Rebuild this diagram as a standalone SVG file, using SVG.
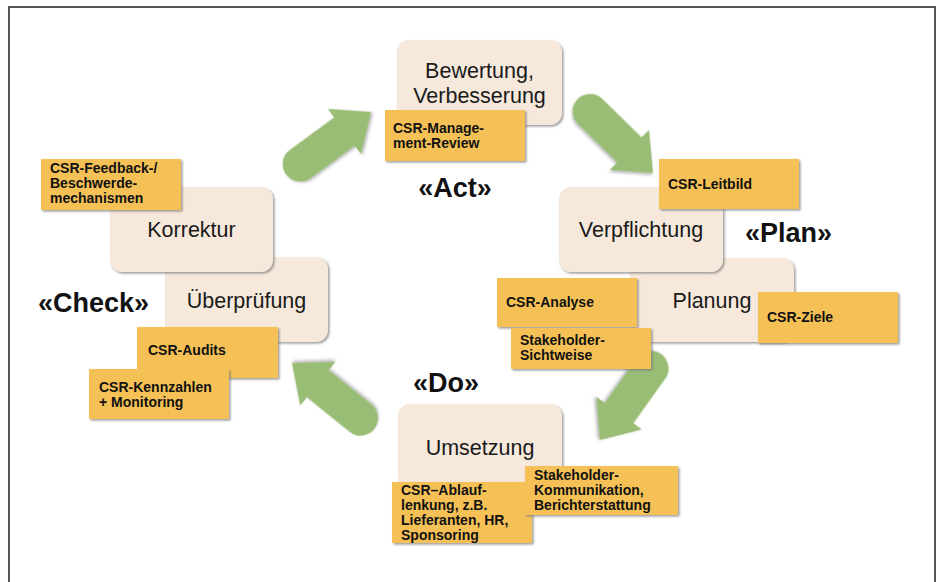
<svg xmlns="http://www.w3.org/2000/svg" width="940" height="582" viewBox="0 0 940 582">
<defs>
<filter id="sh" x="-10%" y="-10%" width="130%" height="130%">
<feDropShadow dx="1.5" dy="1.5" stdDeviation="1" flood-color="#777" flood-opacity="0.75"/>
</filter>
<filter id="shA" x="-20%" y="-20%" width="140%" height="140%">
<feDropShadow dx="1" dy="2" stdDeviation="1.5" flood-color="#666" flood-opacity="0.45"/>
</filter>
<path id="arr" d="M0,-17.5 L55,-17.5 L55,-28 L88,0 L55,28 L55,17.5 L0,17.5 A17.5,17.5 0 0 1 0,-17.5 Z"/>
</defs>
<style>
.frame{fill:#fff;stroke:#555;stroke-width:2}
.node{fill:#f6e9dc;filter:url(#sh)}
.box{fill:#f5c156;filter:url(#sh)}
.arrow{fill:#9abd74;filter:url(#shA)}
.nt{font-family:"Liberation Sans",Arial,sans-serif;font-size:21.5px;fill:#1a1a1a;text-anchor:middle}
.bt{font-family:"Liberation Sans",Arial,sans-serif;font-size:14px;font-weight:bold;fill:#111}
.st{font-family:"Liberation Sans",Arial,sans-serif;font-size:27px;font-weight:bold;fill:#111}
</style>
<rect class="frame" x="9" y="7" width="926" height="600"/>

<g id="connectors">
<use href="#arr" class="arrow" transform="translate(300.1,164.1) rotate(-36.3)"/>
<use href="#arr" class="arrow" transform="translate(590.1,111.4) rotate(44.4)"/>
<use href="#arr" class="arrow" transform="translate(651.1,368.4) rotate(125.5)"/>
<use href="#arr" class="arrow" transform="translate(360.6,418.2) rotate(-141.2)"/>
</g>

<g id="node-bewertung">
<rect class="node" x="397" y="40" width="165" height="85" rx="12"/>
<text class="nt" x="479.5" y="78">Bewertung,</text>
<text class="nt" x="479.5" y="103">Verbesserung</text>
</g>
<g id="node-planung">
<rect class="node" x="630" y="258" width="164" height="84" rx="12"/>
<text class="nt" x="712" y="308">Planung</text>
</g>
<g id="node-verpflichtung">
<rect class="node" x="559" y="187" width="164" height="85" rx="12"/>
<text class="nt" x="641" y="237">Verpflichtung</text>
</g>
<g id="node-umsetzung">
<rect class="node" x="398" y="404" width="164" height="84" rx="12"/>
<text class="nt" x="480" y="455">Umsetzung</text>
</g>
<g id="node-ueberpruefung">
<rect class="node" x="165" y="257" width="163" height="85" rx="12"/>
<text class="nt" x="246.5" y="308">Überprüfung</text>
</g>
<g id="node-korrektur">
<rect class="node" x="110" y="187" width="163" height="85" rx="12"/>
<text class="nt" x="191.5" y="237">Korrektur</text>
</g>

<g id="box-management-review">
<rect class="box" x="385" y="110" width="140" height="51"/>
<text class="bt" x="393" y="133">CSR-Manage-</text>
<text class="bt" x="393" y="148">ment-Review</text>
</g>
<g id="box-leitbild">
<rect class="box" x="659" y="159" width="140" height="50"/>
<text class="bt" x="668" y="189">CSR-Leitbild</text>
</g>
<g id="box-ziele">
<rect class="box" x="758" y="292" width="140" height="51"/>
<text class="bt" x="767" y="322">CSR-Ziele</text>
</g>
<g id="box-analyse">
<rect class="box" x="497" y="278" width="140" height="49"/>
<text class="bt" x="506" y="307">CSR-Analyse</text>
</g>
<g id="box-sichtweise">
<rect class="box" x="511" y="328" width="140" height="41"/>
<text class="bt" x="520" y="345">Stakeholder-</text>
<text class="bt" x="520" y="360">Sichtweise</text>
</g>
<g id="box-ablauflenkung">
<rect class="box" x="392" y="482" width="140" height="61"/>
<text class="bt" x="401" y="495">CSR–Ablauf-</text>
<text class="bt" x="401" y="510">lenkung, z.B.</text>
<text class="bt" x="401" y="525">Lieferanten, HR,</text>
<text class="bt" x="401" y="540">Sponsoring</text>
</g>
<g id="box-kommunikation">
<rect class="box" x="525" y="466" width="153" height="49"/>
<text class="bt" x="534" y="480">Stakeholder-</text>
<text class="bt" x="534" y="495">Kommunikation,</text>
<text class="bt" x="534" y="510">Berichterstattung</text>
</g>
<g id="box-feedback">
<rect class="box" x="41" y="159" width="140" height="51"/>
<text class="bt" x="50" y="173">CSR-Feedback-/</text>
<text class="bt" x="50" y="188">Beschwerde-</text>
<text class="bt" x="50" y="203">mechanismen</text>
</g>
<g id="box-audits">
<rect class="box" x="137" y="327" width="141" height="51"/>
<text class="bt" x="148" y="355">CSR-Audits</text>
</g>
<g id="box-kennzahlen">
<rect class="box" x="89" y="369" width="140" height="50"/>
<text class="bt" x="99" y="392">CSR-Kennzahlen</text>
<text class="bt" x="99" y="407">+ Monitoring</text>
</g>

<g id="labels">
<text class="st" x="455" y="197" text-anchor="middle">«Act»</text>
<text class="st" x="745" y="242">«Plan»</text>
<text class="st" x="413" y="392">«Do»</text>
<text class="st" x="38" y="312">«Check»</text>
</g>
</svg>
